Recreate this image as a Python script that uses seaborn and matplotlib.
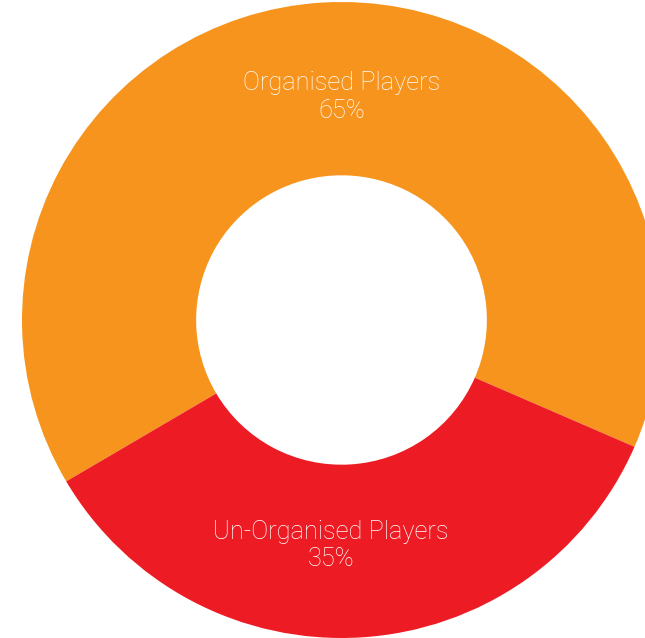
import matplotlib
matplotlib.use("Agg")
import matplotlib.pyplot as plt
import seaborn as sns

sns.set_style("white")
plt.rcParams["font.family"] = ["Roboto", "DejaVu Sans"]

segments = ["Organised Players", "Un-Organised Players"]
shares = [65, 35]
colors = ["#F7941D", "#ED1C24"]

fig = plt.figure(figsize=(6.45, 6.38), dpi=100)
ax = fig.add_axes([0, 0, 1, 1])

# red slice sits a bit right of the bottom, orange fills the rest
ax.pie(shares, colors=colors, startangle=-23.5, counterclock=True,
       radius=1, wedgeprops={"width": 0.545, "linewidth": 0})

# pie is cropped on the right and bottom edges of the picture
ax.set_xlim(-341.5 / 319.5, 303.5 / 319.5)
ax.set_ylim(-318 / 318, 320 / 318)
ax.set_aspect("auto")
ax.axis("off")

ax.text(0.0, 0.70, f"{segments[0]}\n{shares[0]}%", ha="center", va="center",
        color="white", fontsize=18.3, fontweight="light", linespacing=1.2)
ax.text(-0.034, -0.709, f"{segments[1]}\n{shares[1]}%", ha="center", va="center",
        color="white", fontsize=18.3, fontweight="light", linespacing=1.2)

fig.savefig("out.png", dpi=100)
